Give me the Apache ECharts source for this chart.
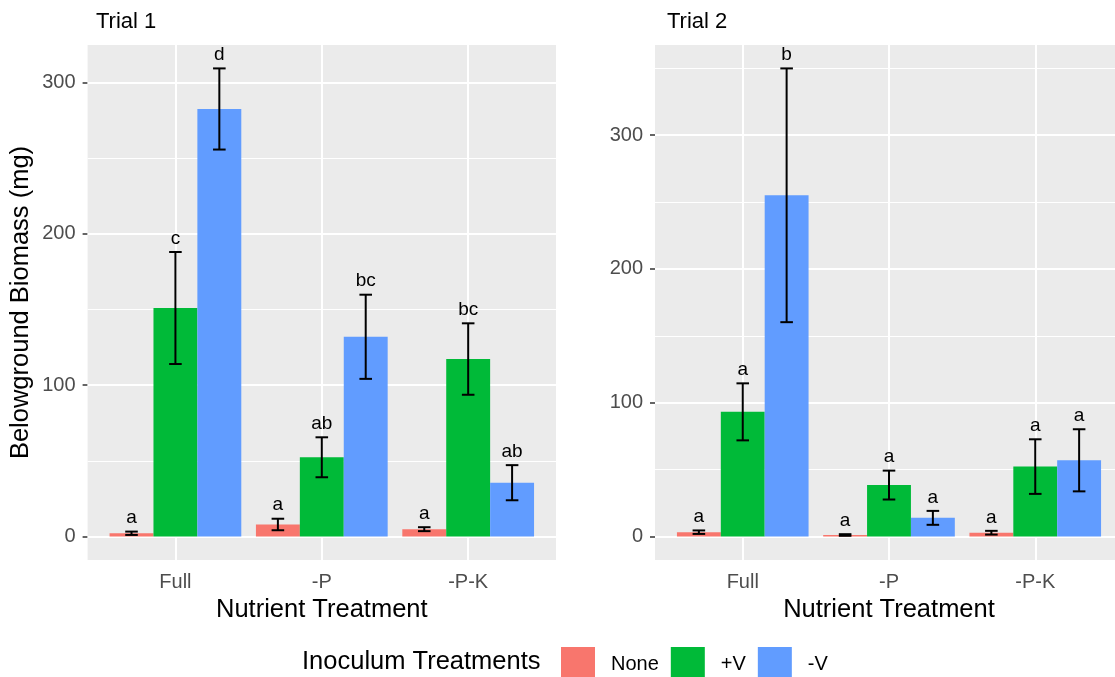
<!DOCTYPE html>
<html>
<head>
<meta charset="utf-8">
<script src="https://cdn.jsdelivr.net/npm/echarts@6/dist/echarts.min.js"></script>
<style>
  html, body { margin: 0; padding: 0; background: #ffffff; }
  #chart { width: 1115px; height: 677px; }
</style>
</head>
<body>
<div id="chart"></div>
<script>
// ---- data -------------------------------------------------------------
const categories = ['Full', '-P', '-P-K'];
const inoculum = ['None', '+V', '-V'];
const colors = ['#F8766D', '#00BA38', '#619CFF'];

// Trial 1: mean belowground biomass (mg) and standard error per nutrient treatment
const trial1None = [2.2, 8.0, 4.9];
const trial1PlusV = [151.0, 52.4, 117.3];
const trial1MinusV = [282.5, 132.0, 35.6];
const trial1NoneSE = [1.1, 3.8, 1.3];
const trial1PlusVSE = [37.0, 13.2, 23.6];
const trial1MinusVSE = [26.8, 27.8, 11.6];
const trial1NoneLetters = ['a', 'a', 'a'];
const trial1PlusVLetters = ['c', 'ab', 'bc'];
const trial1MinusVLetters = ['d', 'bc', 'ab'];

// Trial 2
const trial2None = [3.3, 1.2, 2.9];
const trial2PlusV = [93.2, 38.5, 52.3];
const trial2MinusV = [255.0, 14.0, 57.0];
const trial2NoneSE = [1.3, 0.6, 1.4];
const trial2PlusVSE = [21.3, 10.8, 20.4];
const trial2MinusVSE = [94.8, 5.2, 23.2];
const trial2NoneLetters = ['a', 'a', 'a'];
const trial2PlusVLetters = ['a', 'a', 'a'];
const trial2MinusVLetters = ['b', 'a', 'a'];

const yTicks = [0, 100, 200, 300];
const yMinorTicks = [50, 150, 250, 350];

// ---- layout / style ---------------------------------------------------
const FONT = '"Liberation Sans", Arial, Helvetica, sans-serif';
const X_PAD = 0.6;       // discrete axis expansion on each side
const BAR_FRAC = 0.3;    // width of one dodged bar, in category units
const CAP_FRAC = 0.086;  // error bar cap width, in category units
const Y_EXPAND = 0.05;

const trials = [
  {
    title: 'Trial 1',
    means: [trial1None, trial1PlusV, trial1MinusV],
    se: [trial1NoneSE, trial1PlusVSE, trial1MinusVSE],
    letters: [trial1NoneLetters, trial1PlusVLetters, trial1MinusVLetters],
    grid: { left: 87.6, top: 45, width: 468.4, height: 515 },
    titleLeft: 96,
    yName: 'Belowground Biomass (mg)'
  },
  {
    title: 'Trial 2',
    means: [trial2None, trial2PlusV, trial2MinusV],
    se: [trial2NoneSE, trial2PlusVSE, trial2MinusVSE],
    letters: [trial2NoneLetters, trial2PlusVLetters, trial2MinusVLetters],
    grid: { left: 655, top: 45, width: 468, height: 515 },
    titleLeft: 667,
    yName: ''
  }
];

const option = {
  animation: false,
  backgroundColor: '#ffffff',
  textStyle: { fontFamily: FONT },
  title: [],
  grid: [],
  xAxis: [],
  yAxis: [],
  series: [],
  legend: {
    data: inoculum,
    left: 561,
    top: 647,
    padding: 0,
    itemWidth: 34,
    itemHeight: 34,
    itemGap: 12,
    icon: 'rect',
    selectedMode: false,
    textStyle: { fontSize: 20, color: '#000000', fontFamily: FONT, padding: [0, 0, 0, 11] }
  }
};

option.title.push({
  text: 'Inoculum Treatments',
  left: 302,
  top: 649,
  padding: 0,
  textStyle: { fontSize: 25.5, fontWeight: 'normal', color: '#000000', fontFamily: FONT }
});

trials.forEach(function (trial, t) {
  // y range: bars start at 0, top is the highest error bar, 5% expansion each side
  let top = 0;
  trial.means.forEach(function (arr, i) {
    arr.forEach(function (v, k) { top = Math.max(top, v + trial.se[i][k]); });
  });
  const yMin = -Y_EXPAND * top;
  const yMax = top * (1 + Y_EXPAND);
  const xValues = categories.map(function (c, k) { return k + 1; });

  option.title.push({
    text: trial.title,
    left: trial.titleLeft,
    top: 11,
    padding: 0,
    textStyle: { fontSize: 22, fontWeight: 'normal', color: '#000000', fontFamily: FONT }
  });

  option.grid.push(Object.assign({
    show: true,
    backgroundColor: '#EBEBEB',
    borderWidth: 0,
    containLabel: false,
    outerBoundsMode: 'none'
  }, trial.grid));

  option.xAxis.push({
    type: 'value',
    gridIndex: t,
    min: 1 - X_PAD,
    max: categories.length + X_PAD,
    axisLine: { show: false },
    splitLine: { show: false },
    axisTick: { show: true, customValues: xValues, length: 5, lineStyle: { color: '#333333', width: 1.5 } },
    axisLabel: {
      customValues: xValues,
      formatter: function (v) { return categories[Math.round(v) - 1]; },
      color: '#4D4D4D',
      fontSize: 20,
      fontFamily: FONT,
      margin: 12
    },
    name: 'Nutrient Treatment',
    nameLocation: 'middle',
    nameGap: 36,
    nameTextStyle: { fontSize: 25.5, color: '#000000', fontFamily: FONT }
  });

  option.yAxis.push({
    type: 'value',
    gridIndex: t,
    min: yMin,
    max: yMax,
    axisLine: { show: false },
    splitLine: { show: false },
    axisTick: { show: true, customValues: yTicks, length: 5, lineStyle: { color: '#333333', width: 1.5 } },
    axisLabel: { customValues: yTicks, color: '#4D4D4D', fontSize: 20, fontFamily: FONT, margin: 12 },
    name: trial.yName,
    nameLocation: 'middle',
    nameGap: 54,
    nameTextStyle: { fontSize: 25.5, color: '#000000', fontFamily: FONT }
  });

  // panel grid lines (major at the ticks, thinner minor lines in between)
  const gridLines = [];
  yMinorTicks.filter(function (v) { return v > yMin && v < yMax; }).forEach(function (v) {
    gridLines.push({ yAxis: v, lineStyle: { width: 1 } });
  });
  yTicks.filter(function (v) { return v > yMin && v < yMax; }).forEach(function (v) {
    gridLines.push({ yAxis: v, lineStyle: { width: 2 } });
  });
  xValues.forEach(function (v) { gridLines.push({ xAxis: v, lineStyle: { width: 2 } }); });

  option.series.push({
    type: 'line',
    name: 'panel grid ' + (t + 1),
    xAxisIndex: t,
    yAxisIndex: t,
    data: [],
    silent: true,
    z: 1,
    markLine: {
      silent: true,
      z: 1,
      symbol: ['none', 'none'],
      label: { show: false },
      lineStyle: { color: '#FFFFFF', type: 'solid' },
      emphasis: { disabled: true },
      data: gridLines
    }
  });

  // dodged bars
  trial.means.forEach(function (arr, i) {
    option.series.push({
      type: 'bar',
      name: inoculum[i],
      xAxisIndex: t,
      yAxisIndex: t,
      barWidth: (BAR_FRAC * 100) + '%',
      barGap: '0%',
      z: 6,
      itemStyle: { color: colors[i] },
      data: arr.map(function (v, k) { return [k + 1, v]; })
    });
  });

  // error bars with significance letters
  trial.means.forEach(function (arr, i) {
    const offset = (i - (inoculum.length - 1) / 2) * BAR_FRAC;
    const letters = trial.letters[i];
    option.series.push({
      type: 'custom',
      name: inoculum[i] + ' SE ' + (t + 1),
      xAxisIndex: t,
      yAxisIndex: t,
      z: 8,
      silent: true,
      encode: { x: 0, y: [1, 2] },
      data: arr.map(function (v, k) { return [k + 1, v - trial.se[i][k], v + trial.se[i][k]]; }),
      renderItem: function (params, api) {
        const x = api.value(0) + offset;
        const hi = api.coord([x, api.value(2)]);
        const lo = api.coord([x, api.value(1)]);
        const capL = api.coord([x - CAP_FRAC / 2, api.value(2)])[0];
        const capR = api.coord([x + CAP_FRAC / 2, api.value(2)])[0];
        const stroke = { stroke: '#000000', lineWidth: 2 };
        return {
          type: 'group',
          children: [
            { type: 'line', shape: { x1: hi[0], y1: hi[1], x2: lo[0], y2: lo[1] }, style: stroke },
            { type: 'line', shape: { x1: capL, y1: hi[1], x2: capR, y2: hi[1] }, style: stroke },
            { type: 'line', shape: { x1: capL, y1: lo[1], x2: capR, y2: lo[1] }, style: stroke },
            {
              type: 'text',
              x: hi[0],
              y: hi[1] - 4,
              style: {
                text: letters[params.dataIndex],
                fill: '#000000',
                fontSize: 19,
                fontFamily: FONT,
                align: 'center',
                verticalAlign: 'bottom'
              }
            }
          ]
        };
      }
    });
  });
});

const chart = echarts.init(document.getElementById('chart'), null, { renderer: 'canvas' });
chart.setOption(option);
</script>
</body>
</html>
